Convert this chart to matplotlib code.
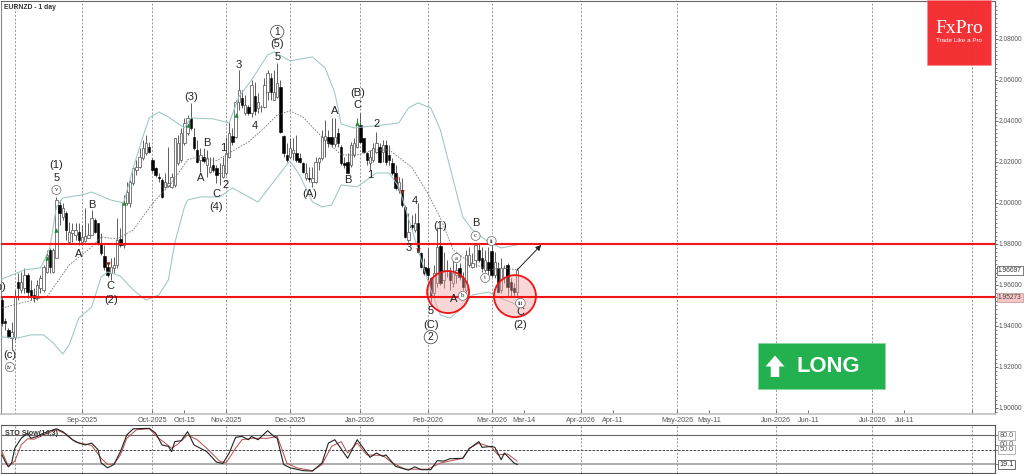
"""
EURNZD daily chart with bollinger bands, wave labels and slow stochastic.
Saves out.png
"""

import numpy as np
import matplotlib
matplotlib.use("Agg")
import matplotlib.pyplot as plt
from matplotlib.patches import Ellipse, Rectangle, FancyArrow
from matplotlib.ticker import FixedLocator

plt.rcParams["font.family"] = ["Liberation Sans", "DejaVu Sans"]

OUT_PNG = "out.png"

OPENS = [
    1.9526, 1.9424, 1.9380, 1.9341, 1.9346, 1.9614, 1.9575, 1.9585, 1.9648, 1.9575,
    1.9551, 1.9536, 1.9585, 1.9575, 1.9663, 1.9770, 1.9663, 1.9731, 1.9990, 1.9931,
    1.9951, 1.9809, 1.9853, 1.9844, 1.9858, 1.9809, 1.9814, 1.9829, 1.9844, 1.9917,
    1.9902, 1.9805, 1.9741, 1.9688, 1.9658, 1.9683, 1.9697, 1.9824, 1.9795, 2.0000,
    2.0000, 2.0097, 2.0161, 2.0175, 2.0219, 2.0244, 2.0273, 2.0210, 2.0170, 2.0127,
    2.0112, 2.0078, 2.0083, 2.0078, 2.0088, 2.0195, 2.0210, 2.0292, 2.0341, 2.0414,
    2.0322, 2.0258, 2.0210, 2.0224, 2.0185, 2.0151, 2.0185, 2.0170, 2.0146, 2.0127,
    2.0146, 2.0224, 2.0327, 2.0322, 2.0493, 2.0512, 2.0439, 2.0468, 2.0439, 2.0522,
    2.0463, 2.0468, 2.0468, 2.0541, 2.0610, 2.0502, 2.0517, 2.0566, 2.0327, 2.0234,
    2.0224, 2.0244, 2.0244, 2.0219, 2.0195, 2.0122, 2.0122, 2.0102, 2.0102, 2.0200,
    2.0219, 2.0307, 2.0322, 2.0322, 2.0288, 2.0341, 2.0273, 2.0195, 2.0200, 2.0185,
    2.0234, 2.0273, 2.0380, 2.0317, 2.0244, 2.0195, 2.0210, 2.0249, 2.0273, 2.0249,
    2.0283, 2.0234, 2.0195, 2.0146, 2.0063, 2.0063, 1.9980, 1.9819, 1.9892, 1.9868,
    1.9902, 1.9756, 1.9688, 1.9683, 1.9634, 1.9561, 1.9609, 1.9790, 1.9624, 1.9673,
    1.9663, 1.9609, 1.9648, 1.9683, 1.9634, 1.9575, 1.9697, 1.9688, 1.9722, 1.9770,
    1.9731, 1.9673, 1.9712, 1.9765, 1.9648, 1.9683, 1.9575, 1.9639, 1.9697, 1.9614,
    1.9585, 1.9565,
]
HIGHS = [
    1.9546, 1.9438, 1.9389, 1.9419, 1.9575, 1.9658, 1.9663, 1.9683, 1.9658, 1.9624,
    1.9585, 1.9624, 1.9648, 1.9697, 1.9770, 1.9780, 1.9780, 2.0029, 2.0014, 2.0000,
    1.9961, 1.9907, 1.9902, 1.9902, 1.9902, 1.9892, 1.9975, 1.9902, 1.9965, 1.9926,
    1.9902, 1.9853, 1.9795, 1.9697, 1.9731, 1.9736, 1.9926, 1.9878, 2.0039, 2.0102,
    2.0112, 2.0175, 2.0210, 2.0268, 2.0307, 2.0331, 2.0297, 2.0219, 2.0175, 2.0146,
    2.0122, 2.0146, 2.0273, 2.0146, 2.0317, 2.0331, 2.0366, 2.0414, 2.0429, 2.0488,
    2.0366, 2.0307, 2.0268, 2.0268, 2.0258, 2.0224, 2.0224, 2.0185, 2.0195, 2.0224,
    2.0322, 2.0395, 2.0366, 2.0502, 2.0649, 2.0551, 2.0527, 2.0478, 2.0600, 2.0590,
    2.0536, 2.0478, 2.0610, 2.0649, 2.0634, 2.0649, 2.0683, 2.0600, 2.0331, 2.0292,
    2.0317, 2.0317, 2.0331, 2.0244, 2.0200, 2.0195, 2.0175, 2.0175, 2.0224, 2.0224,
    2.0356, 2.0405, 2.0356, 2.0414, 2.0414, 2.0366, 2.0283, 2.0224, 2.0244, 2.0297,
    2.0317, 2.0414, 2.0439, 2.0317, 2.0249, 2.0258, 2.0292, 2.0346, 2.0292, 2.0307,
    2.0307, 2.0283, 2.0219, 2.0185, 2.0127, 2.0122, 1.9990, 1.9951, 1.9941, 1.9951,
    2.0000, 1.9760, 1.9731, 1.9780, 1.9639, 1.9697, 1.9883, 1.9878, 1.9760, 1.9722,
    1.9688, 1.9722, 1.9707, 1.9707, 1.9663, 1.9770, 1.9785, 1.9756, 1.9805, 1.9805,
    1.9785, 1.9770, 1.9785, 1.9805, 1.9760, 1.9712, 1.9731, 1.9697, 1.9707, 1.9634,
    1.9609, 1.9683,
]
LOWS = [
    1.9399, 1.9380, 1.9341, 1.9282, 1.9331, 1.9526, 1.9561, 1.9561, 1.9536, 1.9526,
    1.9516, 1.9526, 1.9561, 1.9565, 1.9658, 1.9658, 1.9658, 1.9731, 1.9892, 1.9917,
    1.9819, 1.9805, 1.9809, 1.9819, 1.9795, 1.9795, 1.9809, 1.9829, 1.9844, 1.9853,
    1.9795, 1.9746, 1.9673, 1.9639, 1.9624, 1.9658, 1.9683, 1.9785, 1.9780, 1.9990,
    1.9980, 2.0088, 2.0136, 2.0170, 2.0210, 2.0234, 2.0244, 2.0151, 2.0127, 2.0102,
    2.0024, 2.0073, 2.0078, 2.0073, 2.0078, 2.0185, 2.0200, 2.0283, 2.0331, 2.0356,
    2.0258, 2.0195, 2.0151, 2.0195, 2.0127, 2.0146, 2.0151, 2.0097, 2.0088, 2.0122,
    2.0136, 2.0219, 2.0283, 2.0317, 2.0454, 2.0463, 2.0429, 2.0429, 2.0419, 2.0429,
    2.0439, 2.0444, 2.0463, 2.0502, 2.0502, 2.0502, 2.0512, 2.0341, 2.0224, 2.0200,
    2.0219, 2.0210, 2.0200, 2.0195, 2.0146, 2.0112, 2.0102, 2.0078, 2.0097, 2.0161,
    2.0210, 2.0224, 2.0273, 2.0273, 2.0273, 2.0273, 2.0185, 2.0170, 2.0146, 2.0175,
    2.0224, 2.0268, 2.0292, 2.0244, 2.0185, 2.0161, 2.0200, 2.0244, 2.0195, 2.0200,
    2.0185, 2.0185, 2.0136, 2.0063, 2.0048, 1.9980, 1.9829, 1.9809, 1.9868, 1.9858,
    1.9756, 1.9683, 1.9648, 1.9624, 1.9516, 1.9541, 1.9590, 1.9600, 1.9585, 1.9639,
    1.9575, 1.9590, 1.9609, 1.9624, 1.9575, 1.9565, 1.9688, 1.9683, 1.9688, 1.9712,
    1.9663, 1.9663, 1.9648, 1.9639, 1.9634, 1.9561, 1.9561, 1.9609, 1.9541, 1.9541,
    1.9541, 1.9541,
]
CLOSES = [
    1.9414, 1.9414, 1.9346, 1.9370, 1.9541, 1.9585, 1.9614, 1.9648, 1.9565, 1.9541,
    1.9536, 1.9600, 1.9634, 1.9688, 1.9746, 1.9688, 1.9770, 2.0014, 1.9951, 1.9975,
    1.9868, 1.9858, 1.9868, 1.9868, 1.9819, 1.9834, 1.9839, 1.9844, 1.9926, 1.9858,
    1.9805, 1.9756, 1.9688, 1.9648, 1.9688, 1.9697, 1.9819, 1.9795, 2.0000, 2.0053,
    2.0102, 2.0170, 2.0175, 2.0224, 2.0268, 2.0292, 2.0249, 2.0161, 2.0136, 2.0122,
    2.0029, 2.0102, 2.0097, 2.0127, 2.0317, 2.0292, 2.0341, 2.0390, 2.0414, 2.0366,
    2.0268, 2.0200, 2.0234, 2.0205, 2.0219, 2.0175, 2.0161, 2.0136, 2.0146, 2.0185,
    2.0244, 2.0341, 2.0297, 2.0493, 2.0551, 2.0478, 2.0478, 2.0439, 2.0576, 2.0449,
    2.0493, 2.0468, 2.0576, 2.0634, 2.0541, 2.0541, 2.0585, 2.0346, 2.0244, 2.0210,
    2.0268, 2.0258, 2.0210, 2.0200, 2.0151, 2.0146, 2.0117, 2.0122, 2.0200, 2.0219,
    2.0322, 2.0327, 2.0292, 2.0288, 2.0322, 2.0292, 2.0195, 2.0185, 2.0146, 2.0283,
    2.0292, 2.0385, 2.0297, 2.0249, 2.0210, 2.0224, 2.0268, 2.0292, 2.0200, 2.0283,
    2.0200, 2.0210, 2.0146, 2.0073, 2.0102, 1.9990, 1.9834, 1.9858, 1.9883, 1.9902,
    1.9760, 1.9688, 1.9658, 1.9648, 1.9541, 1.9658, 1.9785, 1.9609, 1.9673, 1.9673,
    1.9624, 1.9658, 1.9673, 1.9639, 1.9590, 1.9746, 1.9746, 1.9707, 1.9795, 1.9722,
    1.9683, 1.9722, 1.9673, 1.9648, 1.9712, 1.9565, 1.9683, 1.9683, 1.9590, 1.9575,
    1.9565, 1.9673,
]

# bollinger bands, read at the bars where the line changes direction
UPPER_IDX = [0, 7, 12, 13, 15, 17, 19, 25, 28, 34, 38, 41, 44, 46, 49, 52, 57, 59, 66, 71, 74,
             78, 83, 85, 90, 97, 101, 104, 106, 110, 119, 124, 127, 130, 134, 137, 141, 144,
             147, 152, 156, 161]
UPPER_VAL = [1.9629, 1.9673, 1.9683, 1.9712, 1.9785, 1.9980, 2.0024, 2.0039, 2.0053, 2.0014,
             2.0000, 2.0170, 2.0322, 2.0414, 2.0444, 2.0419, 2.0366, 2.0414, 2.0410, 2.0390,
             2.0517, 2.0600, 2.0722, 2.0737, 2.0693, 2.0712, 2.0658, 2.0536, 2.0385, 2.0366,
             2.0380, 2.0390, 2.0463, 2.0488, 2.0463, 2.0356, 2.0112, 1.9931, 1.9868, 1.9809,
             1.9780, 1.9795]
MIDDLE_IDX = [0, 6, 14, 21, 28, 31, 36, 41, 46, 48, 53, 58, 61, 67, 71, 77, 82, 86, 90, 94, 100,
              106, 111, 116, 121, 128, 133, 137, 141, 146, 152, 157, 161]
MIDDLE_VAL = [1.9487, 1.9512, 1.9541, 1.9697, 1.9785, 1.9834, 1.9824, 1.9868, 1.9975, 2.0014,
              2.0097, 2.0210, 2.0224, 2.0205, 2.0244, 2.0297, 2.0366, 2.0429, 2.0449, 2.0419,
              2.0322, 2.0234, 2.0234, 2.0258, 2.0258, 2.0175, 2.0048, 1.9926, 1.9770, 1.9712,
              1.9673, 1.9683, 1.9673]
LOWER_IDX = [0, 5, 9, 13, 16, 19, 21, 24, 28, 31, 33, 37, 41, 45, 49, 52, 54, 57, 58, 62, 68, 72,
             80, 86, 90, 93, 97, 100, 103, 106, 111, 117, 121, 124, 132, 134, 137, 140, 144,
             147, 152, 155, 161]
LOWER_VAL = [1.9346, 1.9341, 1.9356, 1.9356, 1.9317, 1.9263, 1.9307, 1.9438, 1.9492, 1.9639,
             1.9663, 1.9643, 1.9575, 1.9526, 1.9551, 1.9624, 1.9805, 1.9980, 2.0014, 2.0029,
             2.0029, 2.0073, 2.0004, 2.0126, 2.0205, 2.0136, 2.0005, 1.9980, 1.9990, 2.0088,
             2.0078, 2.0146, 2.0146, 2.0078, 1.9673, 1.9575, 1.9453, 1.9438, 1.9492, 1.9551,
             1.9565, 1.9541, 1.9502]

# slow stochastic
STO_K_IDX = [0, 1, 2, 3, 4, 6, 8, 9, 11, 13, 17, 19, 22, 24, 26, 28, 30, 31, 33, 35, 37, 39, 41,
             46, 48, 50, 52, 53, 54, 56, 58, 60, 64, 67, 69, 71, 73, 75, 77, 78, 80, 83, 85, 86,
             88, 90, 94, 97, 100, 102, 104, 108, 111, 115, 117, 119, 120, 123, 127, 129, 131,
             134, 136, 138, 140, 144, 146, 149, 150, 153, 154, 156, 157, 160, 161]
STO_K_VAL = [39, 25, 14, 22, 53, 74, 85, 74, 78, 85, 94, 88, 71, 64, 60, 64, 50, 22, 12, 19, 46,
             81, 94, 95, 85, 60, 57, 46, 67, 69, 88, 60, 46, 24, 21, 43, 76, 78, 71, 78, 71, 90,
             78, 74, 19, 12, 6, 5, 22, 64, 71, 32, 71, 34, 43, 36, 39, 15, 7, 14, 8, 8, 27, 26,
             31, 32, 52, 67, 55, 57, 55, 29, 43, 22, 19]
STO_D_IDX = [0, 2, 4, 6, 8, 10, 13, 17, 20, 23, 26, 28, 31, 33, 35, 37, 39, 42, 46, 49, 51, 53,
             55, 58, 61, 64, 68, 70, 73, 75, 78, 83, 86, 87, 89, 92, 97, 100, 103, 106, 108, 111,
             114, 119, 122, 126, 133, 137, 144, 146, 149, 153, 155, 158, 161]
STO_D_VAL = [46, 15, 26, 60, 73, 72, 81, 92, 83, 66, 62, 59, 32, 19, 20, 39, 74, 92, 94, 74, 64,
             53, 62, 81, 71, 53, 26, 22, 53, 71, 74, 74, 78, 60, 22, 12, 6, 19, 57, 67, 43, 64,
             39, 38, 22, 9, 9, 22, 32, 53, 64, 55, 39, 41, 26]

# bar slots: trading days up to the last bar, calendar days after it
MONTH_TICKS = [25, 47, 70, 90, 112, 133, 153, 181, 211, 242, 272, 303]
MONTH_LABELS = ["Sep-2025", "Oct-2025", "Nov-2025", "Dec-2025", "Jan-2026", "Feb-2026",
                "Mar-2026", "Apr-2026", "May-2026", "Jun-2026", "Jul-2026", ""]
EXTRA_TICKS = [57, 163, 191, 221, 252, 282]
EXTRA_LABELS = ["Oct-15", "Mar-14", "Apr-11", "May-11", "Jun-11", "Jul-11"]
GRID_SLOTS = [4] + MONTH_TICKS

PRICE_TICKS = [1.90, 1.92, 1.94, 1.96, 1.98, 2.00, 2.02, 2.04, 2.06, 2.08]

RESISTANCE = 1.9797
SUPPORT = 1.9542
LAST_PRICE = 1.96697
LEVEL_PRICE = 1.95273

SIGNAL_UP_IDX = [14, 17, 38, 58, 73, 111]
SIGNAL_UP_VAL = [1.9731, 1.9868, 2.0000, 2.0380, 2.0429, 2.0390]
SIGNAL_DOWN_IDX = [33, 123, 125, 130]
SIGNAL_DOWN_VAL = [1.9702, 2.0117, 2.0053, 1.9770]

# wave labels: text, bar slot, price
WAVE_LABELS = [
    ("(1)", 17, 2.0185), ("5", 17, 2.0122), ("B", 28, 1.9990), ("A", 24, 1.9751),
    ("C", 34, 1.9595), ("(2)", 34, 1.9526), ("(b)", -1, 1.9590), ("(c)", 2.5, 1.9258),
    ("(3)", 59, 2.0517), ("B", 64, 2.0292), ("A", 62, 2.0122), ("1", 69, 2.0268),
    ("2", 70, 2.0087), ("C", 67, 2.0043), ("(4)", 67, 1.9980), ("3", 74, 2.0673),
    ("4", 79, 2.0375), ("5", 86, 2.0712), ("(5)", 86, 2.0776), ("(A)", 96, 2.0043),
    ("A", 104, 2.0449), ("B", 108, 2.0112), ("C", 111, 2.0478), ("(B)", 111, 2.0536),
    ("2", 117, 2.0385), ("1", 115, 2.0136), ("3", 127, 1.9780), ("4", 129, 2.0009),
    ("(1)", 137, 1.9887), ("A", 141, 1.9531), ("5", 134, 1.9473), ("(C)", 134, 1.9404),
    ("B", 148, 1.9902), ("C", 162, 1.9468), ("(2)", 162, 1.9404),
]
CIRCLED_BIG = [("1", 86, 2.0834), ("2", 134, 1.9345)]
CIRCLED_SMALL = [("v", 17, 2.0063), ("iv", 2.5, 1.9199), ("a", 142, 1.9731), ("b", 144, 1.9546),
                 ("c", 148, 1.9839), ("ii", 153, 1.9814), ("i", 151, 1.9634), ("iii", 162, 1.9511)]

INK = "#555555"
BAND = "#9cc6c6"
RED = "#f01414"


def draw_candles(ax):
    slots = np.arange(len(CLOSES))
    opens = np.array(OPENS)
    closes = np.array(CLOSES)
    up = closes >= opens

    ax.vlines(slots, LOWS, HIGHS, color="#444444", lw=0.6, zorder=3)
    ax.bar(slots[up], (closes - opens)[up], 0.78, bottom=opens[up],
           color="white", edgecolor="#666666", lw=0.6, zorder=4)
    ax.bar(slots[~up], (opens - closes)[~up], 0.78, bottom=closes[~up],
           color="black", edgecolor="black", lw=0.4, zorder=4)


def draw_price_panel(ax):
    for slot in GRID_SLOTS:
        ax.axvline(slot, color="#888888", lw=0.6, ls=(0, (2.5, 2)), zorder=1)

    draw_candles(ax)
    ax.plot(UPPER_IDX, UPPER_VAL, color=BAND, lw=0.75, zorder=5)
    ax.plot(LOWER_IDX, LOWER_VAL, color=BAND, lw=0.75, zorder=5)
    ax.plot(MIDDLE_IDX, MIDDLE_VAL, color="#777777", lw=0.6, ls=(0, (2, 1.5)), zorder=5)

    ax.plot(SIGNAL_UP_IDX, SIGNAL_UP_VAL, "^", color="#1f8a2c", ms=3.2, mew=0, zorder=6)
    ax.plot(SIGNAL_DOWN_IDX, SIGNAL_DOWN_VAL, "v", color="#8c1c1c", ms=3.2, mew=0, zorder=6)

    ax.axhline(RESISTANCE, color=RED, lw=1.5, zorder=7)
    ax.axhline(SUPPORT, color=RED, lw=1.5, zorder=7)

    # px sizes of a 42 px round circle on this scale
    for slot, price in [(139.4, 1.9565), (160.3, 1.9545)]:
        ax.add_patch(Ellipse((slot, price), 13.1, 0.0205, fc="#f4a0a0", ec="none", alpha=0.42, zorder=6))
        ax.add_patch(Ellipse((slot, price), 13.1, 0.0205, fc="none", ec=RED, lw=1.3, zorder=8))

    ax.annotate("", xy=(168.5, 1.9795), xytext=(161, 1.9673), zorder=9,
                arrowprops=dict(arrowstyle="-|>", color="#222222", lw=0.7, mutation_scale=8,
                                shrinkA=0, shrinkB=0))

    for text, slot, price in WAVE_LABELS:
        ax.text(slot, price, text, fontsize=8.0, color="#222222", ha="center", va="center", zorder=10)
    for text, slot, price in CIRCLED_BIG:
        ax.text(slot, price, text, fontsize=7.4, color="#222222", ha="center", va="center", zorder=10,
                bbox=dict(boxstyle="circle,pad=0.16", fc="white", ec="#555555", lw=0.6))
    for text, slot, price in CIRCLED_SMALL:
        ax.text(slot, price, text, fontsize=4.8, family="Liberation Serif", color="#222222", ha="center",
                va="center", zorder=10,
                bbox=dict(boxstyle="circle,pad=0.3", fc="white", ec="#666666", lw=0.5))

    ax.text(0.003, 0.984, "EURNZD - 1 day", transform=ax.transAxes, fontsize=4.9, fontweight="bold",
            color="#333333", va="center")

    ax.set_xlim(-0.31, 310.3)
    ax.set_ylim(1.8970, 2.0985)

    ax.yaxis.tick_right()
    ax.set_yticks(PRICE_TICKS)
    ax.set_yticklabels([f"{t:.5f}" for t in PRICE_TICKS])
    ax.yaxis.set_minor_locator(FixedLocator(np.arange(1.898, 2.098, 0.002)))
    ax.tick_params(axis="y", which="major", length=2, width=0.6, color=INK, labelsize=4.8,
                   labelcolor="#555555", pad=0.4)
    ax.tick_params(axis="y", which="minor", length=1.2, width=0.5, color=INK)

    ax.set_xticks(MONTH_TICKS + EXTRA_TICKS)
    ax.set_xticklabels(MONTH_LABELS + EXTRA_LABELS)
    ax.tick_params(axis="x", length=3, width=0.6, direction="in", color=INK, labelsize=5.2,
                   labelcolor="#555555", pad=2.2)

    ax.spines["top"].set_color("#666666")
    ax.spines["left"].set_color("#888888")
    ax.spines["right"].set_color("#666666")
    ax.spines["bottom"].set_color("#c4c4c4")
    ax.spines["bottom"].set_linewidth(1.3)

    # price flags on the right axis
    trans = ax.get_yaxis_transform()
    ax.text(1.003, LAST_PRICE, f"{LAST_PRICE:.5f}", transform=trans, fontsize=4.8, color="#333333",
            va="center", clip_on=False, zorder=11,
            bbox=dict(boxstyle="square,pad=0.15", fc="white", ec="#444444", lw=0.5))
    ax.text(1.003, LEVEL_PRICE + 0.0011, f"{LEVEL_PRICE:.5f}", transform=trans, fontsize=4.8, color="#444444",
            va="center", clip_on=False, zorder=11,
            bbox=dict(boxstyle="square,pad=0.15", fc="#f7c6c6", ec="#c89090", lw=0.5))


def draw_sto_panel(ax):
    for slot in GRID_SLOTS:
        ax.axvline(slot, color="#888888", lw=0.6, ls=(0, (2.5, 2)), zorder=1)

    ax.axhline(80, color="#666666", lw=0.8, zorder=2)
    ax.axhline(50, color="#444444", lw=0.7, ls=(0, (2.5, 1.5)), zorder=2)
    ax.axhline(20, color="#a0a0a0", lw=1.2, zorder=2)

    ax.plot(STO_D_IDX, STO_D_VAL, color="#b84a4a", lw=0.7, zorder=3)
    ax.plot(STO_K_IDX, STO_K_VAL, color="#222222", lw=0.8, zorder=4)

    ax.text(0.004, 0.83, "STO Slow(14,3)", transform=ax.transAxes, fontsize=5.2, fontweight="bold",
            color="#333333", va="center", zorder=5)

    ax.set_xlim(-0.31, 310.3)
    ax.set_ylim(1, 102)
    ax.set_xticks([])
    ax.yaxis.tick_right()
    ax.set_yticks([80, 60, 50, 19.1])
    ax.set_yticklabels(["", "", "", ""])
    ax.tick_params(axis="y", length=2, width=0.5, color=INK)

    trans = ax.get_yaxis_transform()
    ax.text(1.0045, 60, "60.0", transform=trans, fontsize=5.2, color="#555555", va="center", clip_on=False)
    for value in [80, 50]:
        ax.text(1.0045, value, f"{value:.1f}", transform=trans, fontsize=5.2, color="#555555", va="center",
                clip_on=False, bbox=dict(boxstyle="square,pad=0.15", fc="white", ec="#999999", lw=0.5))
    ax.text(1.0045, 19.1, "19.1", transform=trans, fontsize=5.2, color="#333333", va="center", clip_on=False,
            bbox=dict(boxstyle="square,pad=0.15", fc="white", ec="#333333", lw=0.5))

    for side in ["top", "bottom", "right"]:
        ax.spines[side].set_color("#555555")
    ax.spines["left"].set_color("#888888")


def draw_overlays(fig):
    # branding and direction badges sit on the figure in pixels
    over = fig.add_axes([0, 0, 1, 1], zorder=20)
    over.set_xlim(0, 1024)
    over.set_ylim(474, 0)
    over.axis("off")

    over.add_patch(Rectangle((927, 0), 64, 64.5, fc="#f4292e", ec="#f88a8a", lw=0.4, alpha=0.96))
    over.text(959.5, 28, "FxPro", family="Liberation Serif", fontsize=14, color="white", ha="center", va="center")
    over.text(959.5, 40.5, "Trade Like a Pro", fontsize=4.5, color="white", ha="center", va="center")

    over.add_patch(Rectangle((757.5, 343), 127, 45.5, fc="#23b04e", ec="#8ed6a4", lw=0.5))
    over.add_patch(FancyArrow(775, 377, 0, -21.5, width=8.5, head_width=19, head_length=11,
                              length_includes_head=True, fc="white", ec="white", lw=0))
    over.text(797, 366, "LONG", fontsize=15.8, fontweight="bold", color="white", va="center")


def main():
    fig = plt.figure(figsize=(10.24, 4.74), dpi=100)
    price_ax = fig.add_axes([1 / 1024, 60 / 474, 994 / 1024, 413 / 474])
    sto_ax = fig.add_axes([1 / 1024, 1 / 474, 994 / 1024, 48 / 474])

    draw_price_panel(price_ax)
    draw_sto_panel(sto_ax)
    draw_overlays(fig)

    fig.savefig(OUT_PNG, dpi=100)
    plt.close(fig)
    print(f"Chart saved → {OUT_PNG}")


if __name__ == "__main__":
    main()
